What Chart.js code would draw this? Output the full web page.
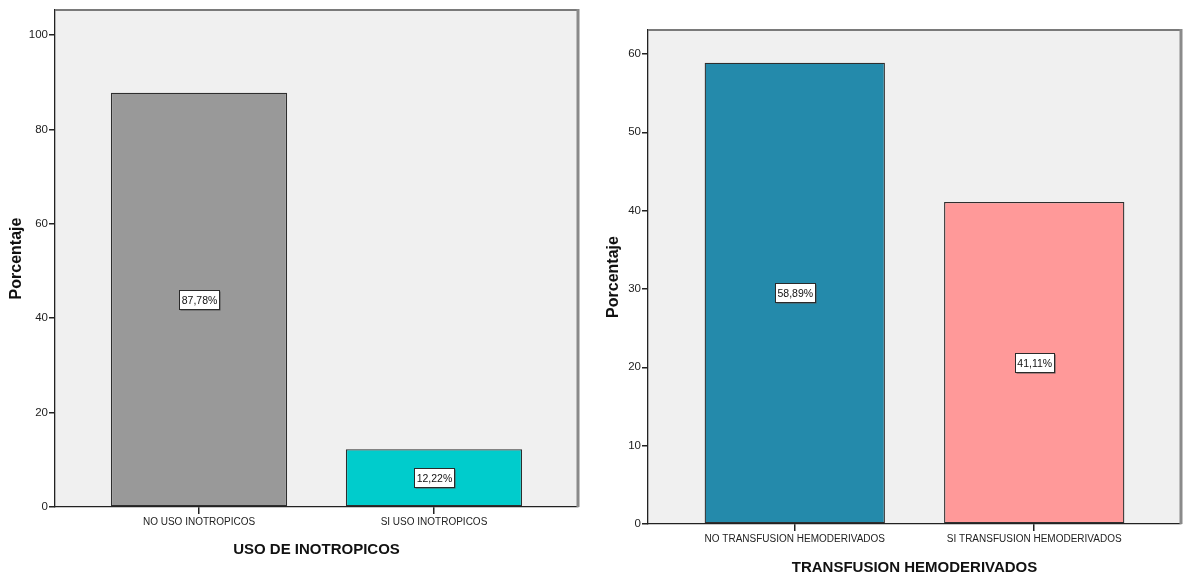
<!DOCTYPE html>
<html>
<head>
<meta charset="utf-8">
<script src="https://cdn.jsdelivr.net/npm/chart.js@4/dist/chart.umd.min.js"></script>
<style>
	html, body { margin: 0; padding: 0; background: #ffffff; }
	.wrap { position: relative; width: 1184px; height: 583px; }
	.panel { position: absolute; top: 0; width: 592px; height: 583px; }
</style>
</head>
<body>
<div class="wrap">
	<div class="panel" style="left: 0;"><canvas id="inotropicos-chart"></canvas></div>
	<div class="panel" style="left: 592px;"><canvas id="transfusion-chart"></canvas></div>
</div>
<script>
const inotropicosCategories = [ 'NO USO INOTROPICOS', 'SI USO INOTROPICOS' ];
const inotropicosValues = [ 87.78, 12.22 ];
const inotropicosColors = [ '#999999', '#00cccc' ];
const inotropicosTicks = [ 0, 20, 40, 60, 80, 100 ];

const transfusionCategories = [ 'NO TRANSFUSION HEMODERIVADOS', 'SI TRANSFUSION HEMODERIVADOS' ];
const transfusionValues = [ 58.89, 41.11 ];
const transfusionColors = [ '#248aab', '#ff9999' ];
const transfusionTicks = [ 0, 10, 20, 30, 40, 50, 60 ];

const labelFont = "'Liberation Sans Narrow', 'Arial Narrow', 'Liberation Sans', Arial, sans-serif";
const boldFont = "'Liberation Sans', Arial, sans-serif";

// grey plot background plus the lighter frame on top and right
const plotFrame = {
	id: 'plotFrame',
	beforeDraw: ( chart ) => {
		const { ctx, chartArea: a } = chart;
		ctx.save();
		ctx.fillStyle = '#f0f0f0';
		ctx.fillRect( a.left, a.top, a.right - a.left, a.bottom - a.top );
		ctx.restore();
	},
	afterDraw: ( chart ) => {
		const { ctx, chartArea: a } = chart;
		ctx.save();
		ctx.strokeStyle = '#7a7a7a';
		ctx.lineWidth = 2;
		ctx.beginPath();
		ctx.moveTo( a.left, a.top );
		ctx.lineTo( a.right, a.top );
		ctx.stroke();
		ctx.lineWidth = 3;
		ctx.strokeStyle = '#8a8a8a';
		ctx.beginPath();
		ctx.moveTo( a.right, a.top - 1 );
		ctx.lineTo( a.right, a.bottom );
		ctx.stroke();
		ctx.restore();
	},
};

// white boxed percentage in the middle of each bar
const barLabels = {
	id: 'barLabels',
	afterDatasetsDraw: ( chart ) => {
		const { ctx } = chart;
		const meta = chart.getDatasetMeta( 0 );
		const values = chart.data.datasets[ 0 ].data;
		ctx.save();
		ctx.font = '10.5px ' + labelFont;
		ctx.textAlign = 'center';
		ctx.textBaseline = 'middle';
		meta.data.forEach( ( bar, i ) => {
			const text = values[ i ].y.toFixed( 2 ).replace( '.', ',' ) + '%';
			const w = Math.round( ctx.measureText( text ).width ) + 4;
			const h = 19;
			const x = Math.round( bar.x - w / 2 ) + 0.5;
			const y = Math.round( ( bar.y + bar.base ) / 2 - h / 2 ) + 0.5;
			ctx.fillStyle = '#555555';
			ctx.fillRect( x + 1, y + 1, w, h );
			ctx.fillStyle = '#ffffff';
			ctx.fillRect( x, y, w, h );
			ctx.strokeStyle = '#2a2a2a';
			ctx.lineWidth = 1;
			ctx.strokeRect( x, y, w, h );
			ctx.fillStyle = '#111111';
			ctx.fillText( text, bar.x + 0.5, y + h / 2 + 1 );
		} );
		ctx.restore();
	},
};

const generateChart = ( canvasId, cfg ) => {
	const canvas = document.getElementById( canvasId );
	const points = cfg.values.map( ( v, i ) => ( { x: i, y: v } ) );
	return new Chart( canvas, {
		type: 'bar',
		data: {
			datasets: [
				{
					data: points,
					backgroundColor: cfg.colors,
					borderColor: '#2e2e2e',
					borderWidth: 1.3,
					borderSkipped: false,
					categoryPercentage: 1,
					barPercentage: cfg.barPercentage,
				},
			],
		},
		options: {
			responsive: true,
			maintainAspectRatio: false,
			animation: false,
			layout: {
				padding: { top: cfg.top, right: cfg.right, left: 0, bottom: 0 },
			},
			plugins: {
				legend: { display: false },
				tooltip: { enabled: false },
			},
			scales: {
				x: {
					type: 'linear',
					offset: false,
					min: -0.613,
					max: 1.613,
					afterFit: ( scale ) => {
						scale.height = cfg.xHeight;
					},
					afterBuildTicks: ( scale ) => {
						scale.ticks = cfg.categories.map( ( c, i ) => ( { value: i } ) );
					},
					ticks: {
						color: '#222222',
						font: { family: labelFont, size: 10 },
						padding: 2,
						maxRotation: 0,
						autoSkip: false,
						callback: ( value ) => cfg.categories[ value ],
					},
					grid: {
						offset: false,
						drawOnChartArea: false,
						drawTicks: true,
						tickLength: 7,
						lineWidth: 1.5,
						color: '#222222',
					},
					border: { display: true, color: '#222222', width: 1.3 },
					title: {
						display: true,
						text: cfg.xTitle,
						color: '#111111',
						font: { family: boldFont, size: 15, weight: 'bold' },
						padding: { top: 0, bottom: cfg.xTitlePad },
					},
				},
				y: {
					min: 0,
					max: cfg.max,
					afterFit: ( scale ) => {
						scale.width = cfg.yWidth;
					},
					afterBuildTicks: ( scale ) => {
						scale.ticks = cfg.ticks.map( ( v ) => ( { value: v } ) );
					},
					ticks: {
						color: '#222222',
						font: { family: labelFont, size: 11.5 },
						padding: 1,
					},
					grid: {
						drawOnChartArea: false,
						drawTicks: true,
						tickLength: 6,
						lineWidth: 1.5,
						color: '#222222',
					},
					border: { display: true, color: '#222222', width: 1.3 },
					title: {
						display: true,
						text: 'Porcentaje',
						color: '#111111',
						font: { family: boldFont, size: 16, weight: 'bold' },
						padding: { top: cfg.yTitlePad, bottom: 0 },
					},
				},
			},
		},
		plugins: [ plotFrame, barLabels ],
	} );
};

generateChart( 'inotropicos-chart', {
	categories: inotropicosCategories,
	values: inotropicosValues,
	colors: inotropicosColors,
	ticks: inotropicosTicks,
	max: 105.3,
	xTitle: 'USO DE INOTROPICOS',
	barPercentage: 0.75,
	top: 10,
	right: 14,
	yWidth: 55,
	xHeight: 76,
	xTitlePad: 24,
	yTitlePad: 7,
} );

generateChart( 'transfusion-chart', {
	categories: transfusionCategories,
	values: transfusionValues,
	colors: transfusionColors,
	ticks: transfusionTicks,
	max: 63.06,
	xTitle: 'TRANSFUSION HEMODERIVADOS',
	barPercentage: 0.753,
	top: 30,
	right: 3,
	yWidth: 56,
	xHeight: 59,
	xTitlePad: 6,
	yTitlePad: 12,
} );
</script>
</body>
</html>
